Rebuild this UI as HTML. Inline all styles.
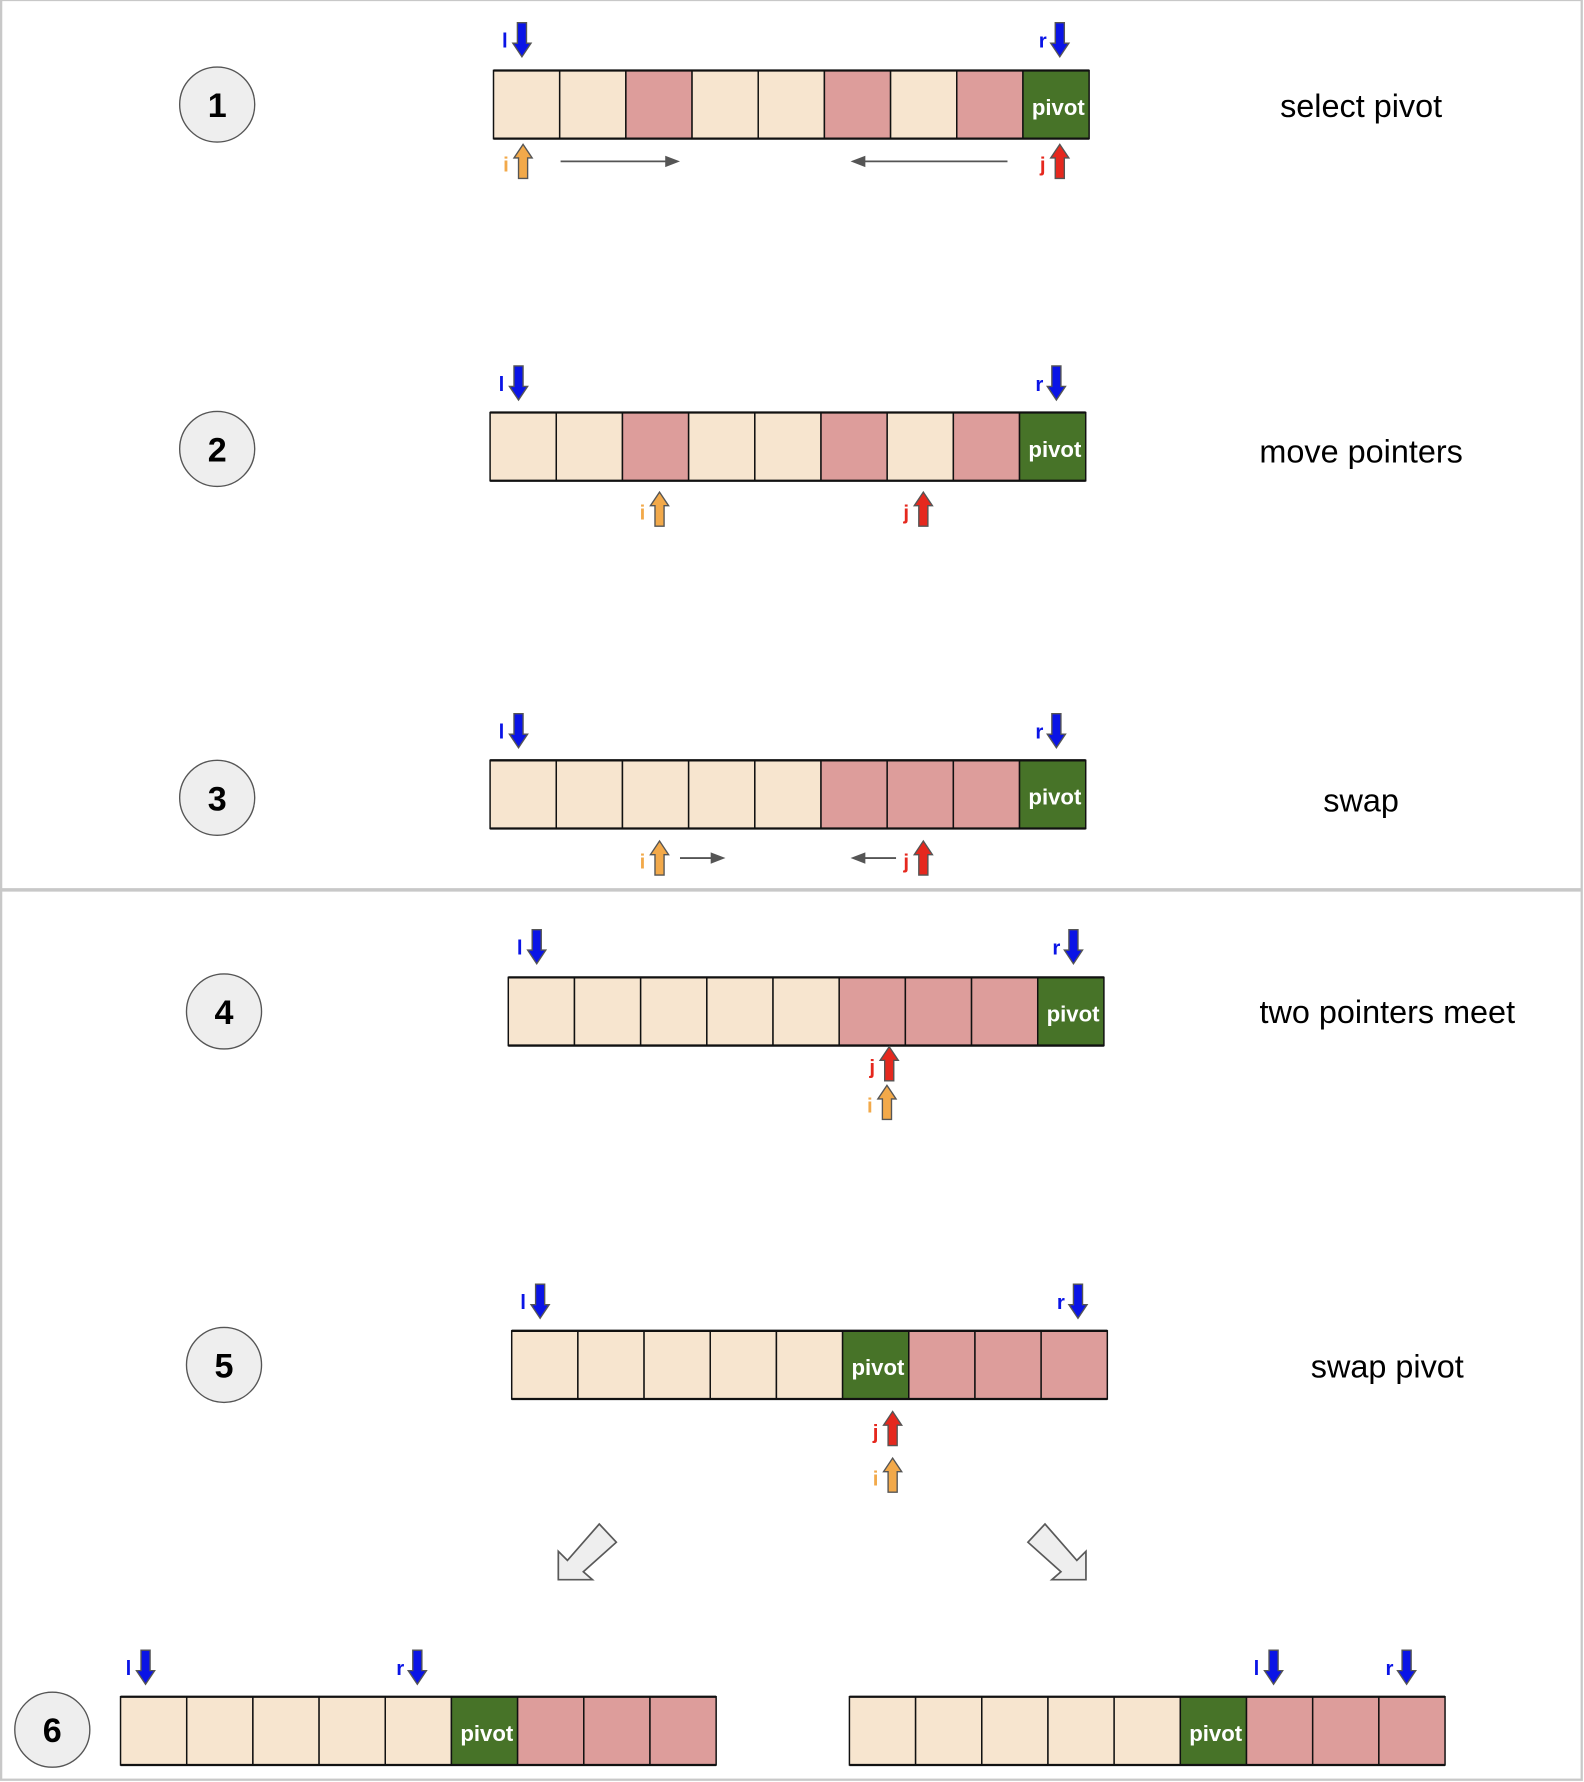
<!DOCTYPE html>
<html><head><meta charset="utf-8"><style>
html,body{margin:0;padding:0;background:#fff}
svg{display:block}
text{font-family:"Liberation Sans",Arial,sans-serif}
</style></head><body>
<svg id="s" width="1584" height="1782" viewBox="0 0 1393 1568" preserveAspectRatio="none" xmlns="http://www.w3.org/2000/svg">
<rect x="1" y="0" width="1390" height="1566" fill="#fff" stroke="#c8c8c8" stroke-width="2"/>
<line x1="1" y1="783" x2="1391" y2="783" stroke="#c8c8c8" stroke-width="3"/>
<polygon points="491,1365 499,1373 527,1341 542,1357 513,1383 521,1390 491,1390" fill="#eeeeee" stroke="#595959" stroke-width="1.5"/>
<polygon points="955,1365 947,1373 919,1341 904,1357 933,1383 925,1390 955,1390" fill="#eeeeee" stroke="#595959" stroke-width="1.5"/>
</svg>
<script>
const svg=document.getElementById('s');
const NS='http://www.w3.org/2000/svg';
function mk(t,a,p){const e=document.createElementNS(NS,t);for(const k in a)e.setAttribute(k,a[k]);(p||svg).appendChild(e);return e;}
const CW=58.2, CH=60;
const arrays=[
 {x:434,y:62,cells:"bbrbbrbrp"},
 {x:431,y:363,cells:"bbrbbrbrp"},
 {x:431,y:669,cells:"bbbbbrrrp"},
 {x:447,y:860,cells:"bbbbbrrrp"},
 {x:450,y:1171,cells:"bbbbbprrr"},
 {x:106,y:1493,cells:"bbbbbprrr"},
 {x:747,y:1493,cells:"bbbbbprrr"}
];
const circles=[[191,92,'1'],[191,395,'2'],[191,702,'3'],[197,890,'4'],[197,1201,'5'],[46,1522,'6']];
const labels=[[1197,93,'select pivot'],[1197,397,'move pointers'],[1197,704,'swap'],[1220,890,'two pointers meet'],[1220,1202,'swap pivot']];
const pointers=[
 ['l',459,20,'d'],['r',932,20,'d'],['i',460,127,'u'],['j',932,127,'u'],
 ['l',456,322,'d'],['r',929,322,'d'],['i',580,433,'u'],['j',812,433,'u'],
 ['l',456,628,'d'],['r',929,628,'d'],['i',580,740,'u'],['j',812,740,'u'],
 ['l',472,818,'d'],['r',944,818,'d'],['j',782,921,'u'],['i',780,955,'u'],
 ['l',475,1130,'d'],['r',948,1130,'d'],['j',785,1242,'u'],['i',785,1283,'u'],
 ['l',128,1452,'d'],['r',367,1452,'d'],['l',1120,1452,'d'],['r',1237,1452,'d']
];
const moves=[[493,142,598],[886,142,748],[598,755,638],[788,755,748]];
const fills={b:'#f7e5cf',r:'#dd9d9b',p:'#477328'};
const pcol={l:'#0a14e6',r:'#0a14e6',i:'#f2a94a',j:'#e5281e'};
arrays.forEach((a,ai)=>{
 const g=mk('g',{});
 
 
 [...a.cells].forEach((c,k)=>{
  const r=mk('rect',{x:a.x+k*CW,y:a.y,width:CW,height:CH,fill:fills[c],stroke:'#111','stroke-width':1.3},g);
  
  
  if(c==='p'){const t=mk('text',{x:a.x+k*CW+CW/2+2,y:a.y+CH/2+9,'text-anchor':'middle','font-size':19.5,'font-weight':'bold',fill:'#fff'},g);t.textContent='pivot';
   
   }
 });
 mk('line',{x1:a.x,y1:a.y,x2:a.x+9*CW,y2:a.y,stroke:'#111','stroke-width':2},g);
 mk('line',{x1:a.x,y1:a.y+CH,x2:a.x+9*CW,y2:a.y+CH,stroke:'#111','stroke-width':2},g);
});
circles.forEach(c=>{
 const e=mk('ellipse',{cx:c[0],cy:c[1],rx:33,ry:33,fill:'#eeeeee',stroke:'#555','stroke-width':1.2});
 
 
 const t=mk('text',{x:c[0],y:c[1]+11,'text-anchor':'middle','font-size':30,'font-weight':'bold',fill:'#000'});t.textContent=c[2];
 
 
});
labels.forEach(l=>{
 const t=mk('text',{x:l[0],y:l[1]+10,'text-anchor':'middle','font-size':28.5,fill:'#000'});t.textContent=l[2];
 
 
});
pointers.forEach(p=>{
 const [L,x,y,d]=p;const h=30,sw=4,hw=8,hl=12;
 let pts;
 if(d==='d')pts=[[x-sw,y],[x+sw,y],[x+sw,y+h-hl],[x+hw,y+h-hl],[x,y+h],[x-hw,y+h-hl],[x-sw,y+h-hl]];
 else pts=[[x,y],[x+hw,y+hl],[x+sw,y+hl],[x+sw,y+h],[x-sw,y+h],[x-sw,y+hl],[x-hw,y+hl]];
 const a=mk('polygon',{points:pts.map(q=>q.join(',')).join(' '),fill:pcol[L],stroke:'#555','stroke-width':1.2});
 
 
 const t=mk('text',{x:x-15,y:y+(d==='d'?22:24),'text-anchor':'middle','font-size':18,'font-weight':'bold',fill:pcol[L]});t.textContent=L;
 
 
});
moves.forEach(m=>{
 const [x1,y,x2]=m;const dir=x2>x1?1:-1;
 const l=mk('line',{x1:x1,y1:y,x2:x2-dir*10,y2:y,stroke:'#555','stroke-width':1.6});
 
 
 const h=mk('polygon',{points:`${x2},${y} ${x2-dir*13},${y-5} ${x2-dir*13},${y+5}`,fill:'#555'});
 
 
});
</script>
</body></html>
